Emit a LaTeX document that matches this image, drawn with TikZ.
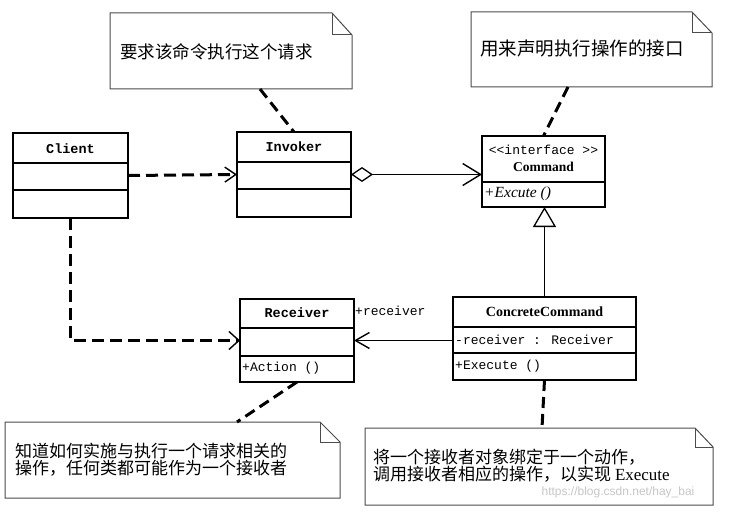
\documentclass[tikz,border=0pt]{standalone}
\usepackage{fontspec}
\setmainfont{Liberation Serif}
\newfontfamily\cjk{Noto Sans CJK SC}
\newfontfamily\mono{Liberation Mono}
\newfontfamily\wmfont{Liberation Sans}
\usetikzlibrary{arrows.meta}
\newcommand{\fs}[1]{\fontsize{#1}{#1}\selectfont}
\begin{document}
\begin{tikzpicture}[x=1pt,y=-1pt,
  umlbox/.style={draw, line width=1.5pt, inner sep=0pt, outer sep=0pt, anchor=north west},
  divider/.style={line width=1.4pt},
  titletxt/.style={font=\mono\bfseries\fs{13.5}, inner sep=0pt},
  membertxt/.style={font=\mono\fs{13}, inner sep=0pt, anchor=west},
  notebox/.style={draw=black!70, line width=1pt, fill=white},
  notetxt/.style={font=\cjk\fs{17}, inner sep=0pt, anchor=west, align=left},
  notelink/.style={line width=3pt, dash pattern=on 11pt off 6pt},
  deplink/.style={line width=3pt, dash pattern=on 12pt off 6pt},
  assoc/.style={line width=1.3pt}
]
\useasboundingbox (0,0) rectangle (731,516);
\fill[white] (0,0) rectangle (731,516);

% ---------- class boxes ----------
\node[umlbox, minimum width=115pt, minimum height=85pt] (client) at (13,133) {};
\draw[divider] (13,163) -- (128,163) (13,190) -- (128,190);
\node[titletxt] (clientT) at (70.5,149) {Client};

\node[umlbox, minimum width=114pt, minimum height=85pt] (inv) at (237,132) {};
\draw[divider] (237,162) -- (351,162) (237,189) -- (351,189);
\node[titletxt] (invT) at (294,147) {Invoker};

\node[umlbox, minimum width=123pt, minimum height=71pt] (cmd) at (482,136) {};
\draw[divider] (482,182) -- (605,182);
\node[font=\mono\fs{13}, inner sep=0pt] (cmdS) at (543.5,150) {<<interface >>};
\node[font=\bfseries\fs{13.5}, inner sep=0pt] (cmdT) at (543.5,167) {Command};
\node[font=\itshape\fs{15.5}, inner sep=0pt, anchor=west] (cmdM) at (484,194) {+Excute ()};

\node[umlbox, minimum width=114pt, minimum height=83pt] (rcv) at (240,299) {};
\draw[divider] (240,328) -- (354,328) (240,356) -- (354,356);
\node[titletxt] (rcvT) at (297,313) {Receiver};
\node[membertxt] (rcvM) at (242,368) {+Action ()};

\node[umlbox, minimum width=183pt, minimum height=83pt] (cc) at (453,297) {};
\draw[divider] (453,327) -- (636,327) (453,353) -- (636,353);
\node[font=\bfseries\fs{14}, inner sep=0pt] (ccT) at (544.5,312) {ConcreteCommand};
\node[membertxt] (ccA) at (455,340) {-receiver  : Receiver};
\node[membertxt] (ccM) at (455,366) {+Execute ()};

% ---------- notes ----------
\draw[notebox] (110,13) -- (332,13) -- (352,35) -- (352,89) -- (110,89) -- cycle;
\draw[notebox, fill=none] (332,13) -- (332,35) -- (352,35);
\node[notetxt, font=\cjk\fs{17.5}] (n1) at (120,52) {要求该命令执行这个请求};
\coordinate (n1b) at (260,89);

\draw[notebox] (471,12) -- (692,12) -- (712,33) -- (712,87) -- (471,87) -- cycle;
\draw[notebox, fill=none] (692,12) -- (692,33) -- (712,33);
\node[notetxt, font=\cjk\fs{18.5}] (n2) at (480,48) {用来声明执行操作的接口};
\coordinate (n2b) at (568,87);

\draw[notebox] (5,422) -- (320,422) -- (340,442) -- (340,498) -- (5,498) -- cycle;
\draw[notebox, fill=none] (320,422) -- (320,442) -- (340,442);
\node[notetxt] (n3) at (15,459.5) {\baselineskip=19pt 知道如何实施与执行一个请求相关的\\操作，任何类都可能作为一个接收者};
\coordinate (n3t) at (237,422);

\draw[notebox] (365,428) -- (695,428) -- (713,447) -- (713,505) -- (365,505) -- cycle;
\draw[notebox, fill=none] (695,428) -- (695,447) -- (713,447);
\node[notetxt] (n4) at (373,465.5) {将一个接收者对象绑定于一个动作，\\调用接收者相应的操作，以实现 {\rmfamily\fs{17}Execute}};
\coordinate (n4t) at (542,428);

% ---------- note links ----------
\draw[notelink] (n1b) -- (inv.north);
\draw[notelink] (n2b) -- (cmd.north);
\draw[notelink] (rcv.south) -- (n3t);
\draw[notelink] (cc.south) -- (n4t);

% ---------- relations ----------
\draw[deplink, -{Straight Barb[length=11pt,width=15pt,line width=1.4pt]}] (client.east) -- (inv.west);
\draw[deplink, -{Straight Barb[length=10pt,width=18pt,line width=1.4pt]}] (client.south) |- (rcv.west);
\draw[assoc, {Diamond[open,length=22pt,width=15pt,line width=1.3pt]}-{Straight Barb[length=18pt,width=22pt,line width=1.4pt]}]
  (inv.east) -- (cmd.west |- inv.east);
\draw[assoc, -{Triangle[open,length=20pt,width=23pt,line width=1.3pt]}] (cc.north) -- (cc.north |- cmd.south);
\draw[assoc, -{Straight Barb[length=14pt,width=16pt,line width=1.4pt]}] (cc.west |- rcv.east) -- (rcv.east);
\node[font=\mono\fs{13}, inner sep=0pt, anchor=west] (roleR) at (355,311) {+receiver};

% ---------- watermark ----------
\node[font=\wmfont\fs{12}, text=black!22, inner sep=0pt] (wm) at (618,492) {https://blog.csdn.net/hay\_bai};
\end{tikzpicture}
\end{document}
